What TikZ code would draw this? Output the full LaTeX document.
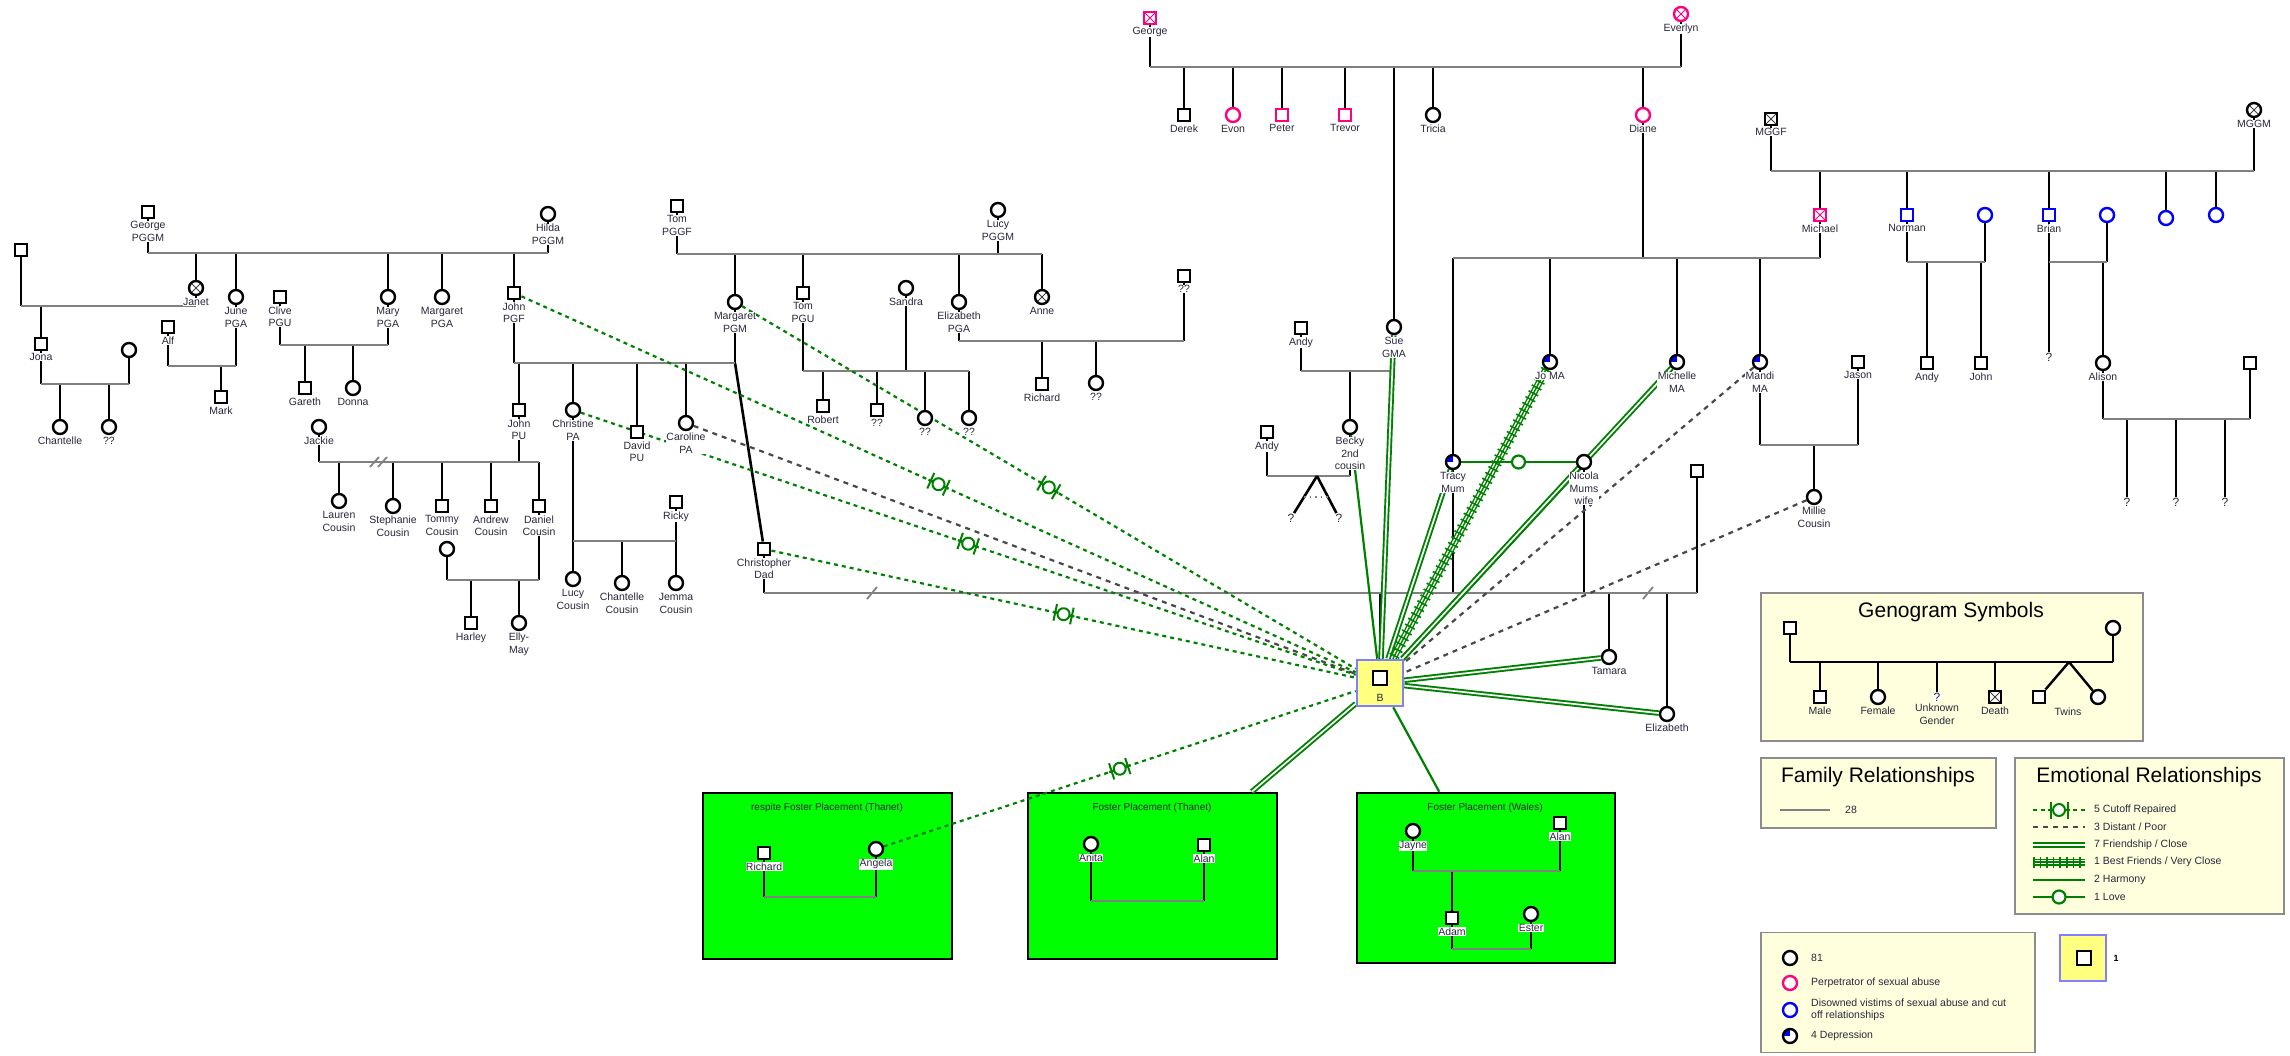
\documentclass[tikz,border=0pt]{standalone}
\usepackage{fontspec}
\setmainfont{Liberation Sans}
\usetikzlibrary{decorations.markings}

\definecolor{pinkp}{RGB}{255,0,128}
\definecolor{bluev}{RGB}{0,0,255}
\definecolor{emo}{RGB}{0,128,0}
\definecolor{famgray}{RGB}{128,128,128}
\definecolor{distgray}{RGB}{72,72,72}
\definecolor{fostergreen}{RGB}{0,255,0}
\definecolor{legendfill}{RGB}{255,255,221}
\definecolor{legendedge}{RGB}{140,140,140}
\definecolor{clientfill}{RGB}{255,255,128}
\definecolor{clientedge}{RGB}{128,128,255}
\definecolor{txt}{RGB}{40,40,60}

\newcommand\lbl{\fontsize{10.5}{12.5}\selectfont}
\newcommand\ttl{\fontsize{21}{24}\selectfont}

\pgfdeclarelayer{boxes}
\pgfdeclarelayer{lines}
\pgfsetlayers{boxes,lines,main}

\begin{document}
\begin{tikzpicture}
        [x=1pt, y=-1pt,
        male/.style={rectangle, draw, line width=2.4pt, fill=white,
        minimum size=12.5pt, inner sep=0pt},
        female/.style={circle, draw, line width=2.4pt, fill=white,
        minimum size=14pt, inner sep=0pt},
        dead/.style={path picture={\draw[#1, line width=0.8pt]
            (path picture bounding box.north west) -- (path picture bounding box.south east)
            (path picture bounding box.north east) -- (path picture bounding box.south west);}},
        dead/.default=black!75,
        dep/.style={path picture={\fill[bluev] (path picture bounding box.center)
            rectangle (path picture bounding box.north west);}},
        unk/.style={font=\fontsize{12}{12}\selectfont, text=txt, inner sep=0.5pt},
        every label/.style={font=\lbl, text=txt, fill=white, inner sep=0.4pt, align=center},
        label distance=1.5pt,
        kid/.style={draw=black, line width=2.6pt},
        bar/.style={draw=famgray, line width=2.6pt},
        legline/.style={draw=black, line width=2.4pt},
        cutoff/.style={draw=emo, line width=2.2pt, dash pattern=on 4pt off 4pt,
            postaction={decorate},
            decoration={markings, mark=at position 0.5 with {
                \draw[solid, emo, line width=2.2pt] (-11pt,0pt) -- (11pt,0pt);
                \draw[solid, emo, line width=2pt] (-8.5pt,-8.5pt) -- (-8.5pt,8.5pt) (8.5pt,-8.5pt) -- (8.5pt,8.5pt);
                \draw[solid, emo, line width=2pt, fill=white] (0pt,0pt) circle (6pt);}}},
        distant/.style={draw=distgray, line width=2.2pt, dash pattern=on 5pt off 5pt},
        closerel/.style={draw=emo, line width=1.9pt, double=white, double distance=1.7pt},
        harmony/.style={draw=emo, line width=2.2pt},
        bestf/.style={draw=emo, line width=1.4pt,
            preaction={draw=emo, line width=7pt},
            preaction={draw=white, line width=4.2pt},
            postaction={draw=emo, line width=11pt, dash pattern=on 1.6pt off 5pt}},
        love/.style={draw=emo, line width=2.2pt, postaction={decorate},
            decoration={markings, mark=at position 0.5 with {
                \draw[emo, line width=2.2pt, fill=white] (0pt,0pt) circle (6.5pt);}}},
        fbox/.style={rectangle, draw=black, line width=2.6pt, fill=fostergreen},
        ftitle/.style={font=\fontsize{10}{12}\selectfont, text=txt, inner sep=1pt},
        lbox/.style={rectangle, draw=legendedge, line width=1.8pt, fill=legendfill},
        ltitle/.style={font=\ttl, text=black, inner sep=1pt},
        ltext/.style={font=\lbl, text=txt, inner sep=1pt, anchor=west, align=left},
        clientbox/.style={rectangle, draw=clientedge, line width=2.6pt, fill=clientfill,
        minimum size=46pt, inner sep=0pt}]
        \useasboundingbox (0,0) rectangle (2290,1055);

        % paternal side, left
        \node[male, label=below:{George\\PGGM}] (georgeg) at (148,212) {};
        \node[female, label=below:{Hilda\\PGGM}] (hilda) at (548,214) {};
        \node[male] (jonaf) at (21,250) {};
        \node[female, dead, label=below:Janet] (janet) at (196,288) {};
        \node[female, label=below:{June\\PGA}] (june) at (236,297) {};
        \node[female, label=below:{Mary\\PGA}] (mary) at (388,297) {};
        \node[female, label=below:{Margaret\\PGA}] (margaretpga) at (442,297) {};
        \node[male, label=below:{John\\PGF}] (johnpgf) at (514,293) {};
        \node[male, label=below:{Clive\\PGU}] (clive) at (280,297) {};
        \node[male, label=below:Alf] (alf) at (168,327) {};
        \node[male, label=below:Mark] (mark) at (221,397) {};
        \node[male, label=below:Gareth] (gareth) at (305,388) {};
        \node[female, label=below:Donna] (donna) at (353,388) {};
        \node[male, label=below:Jona] (jona) at (41,344) {};
        \node[female] (jonam) at (129,350) {};
        \node[female, label=below:Chantelle] (chantelle) at (60,427) {};
        \node[female, label=below:??] (jonac) at (109,427) {};
        \node[female, label=below:Jackie] (jackie) at (319,427) {};

        % paternal side, Tom and Lucy
        \node[male, label=below:{Tom\\PGGF}] (tompggf) at (677,206) {};
        \node[female, label=below:{Lucy\\PGGM}] (lucy) at (998,210) {};
        \node[female, label=below:{Margaret\\PGM}] (margaretpgm) at (735,302) {};
        \node[male, label=below:{Tom\\PGU}] (tompgu) at (803,293) {};
        \node[female, label=below:Sandra] (sandra) at (906,288) {};
        \node[female, label=below:{Elizabeth\\PGA}] (elizabethpga) at (959,302) {};
        \node[female, dead, label=below:Anne] (anne) at (1042,297) {};
        \node[male, label=below:??] (elizm) at (1184,276) {};
        \node[male, label=below:Robert] (robert) at (823,406) {};
        \node[male, label=below:??] (tomc2) at (877,410) {};
        \node[female, label=below:??] (tomc3) at (925,418) {};
        \node[female, label=below:??] (tomc4) at (969,418) {};
        \node[male, label=below:Richard] (richard) at (1042,384) {};
        \node[female, label=below:??] (elizc) at (1096,383) {};

        % John PGF and Margaret PGM children
        \node[male, label=below:{John\\PU}] (johnpu) at (519,410) {};
        \node[female, label=below:{Christine\\PA}] (christine) at (573,410) {};
        \node[male, label=below:{David\\PU}] (david) at (637,432) {};
        \node[female, label=below:{Caroline\\PA}] (caroline) at (686,423) {};
        \node[male, label=below:{Christopher\\Dad}] (chris) at (764,549) {};

        % cousins
        \node[female, label=below:{Lauren\\Cousin}] (lauren) at (339,501) {};
        \node[female, label=below:{Stephanie\\Cousin}] (stephanie) at (393,506) {};
        \node[male, label=below:{Tommy\\Cousin}] (tommy) at (442,506) {};
        \node[male, label=below:{Andrew\\Cousin}] (andrew) at (491,506) {};
        \node[male, label=below:{Daniel\\Cousin}] (daniel) at (539,506) {};
        \node[female] (danielw) at (447,549) {};
        \node[male, label=below:Harley] (harley) at (471,623) {};
        \node[female, label=below:{Elly-\\May}] (ellymay) at (519,623) {};
        \node[male, label=below:Ricky] (ricky) at (676,502) {};
        \node[female, label=below:{Lucy\\Cousin}] (lucyc) at (573,579) {};
        \node[female, label=below:{Chantelle\\Cousin}] (chantellec) at (622,583) {};
        \node[female, label=below:{Jemma\\Cousin}] (jemma) at (676,583) {};

        % maternal side, George and Everlyn
        \node[male, draw=pinkp, dead=pinkp, label=below:George] (georgem) at (1150,18) {};
        \node[female, draw=pinkp, dead=pinkp, label=below:Everlyn] (everlyn) at (1681,14) {};
        \node[male, label=below:Derek] (derek) at (1184,115) {};
        \node[female, draw=pinkp, label=below:Evon] (evon) at (1233,115) {};
        \node[male, draw=pinkp, label=below:Peter] (peter) at (1282,115) {};
        \node[male, draw=pinkp, label=below:Trevor] (trevor) at (1345,115) {};
        \node[female, label=below:Tricia] (tricia) at (1433,115) {};
        \node[female, draw=pinkp, label=below:Diane] (diane) at (1643,115) {};
        \node[female, label=below:{Sue\\GMA}] (sue) at (1394,327) {};
        \node[male, label=below:Andy] (andy) at (1301,328) {};
        \node[female, label=below:{Becky\\2nd\\cousin}] (becky) at (1350,427) {};
        \node[male, label=below:Andy] (andyb) at (1267,432) {};
        \node[unk] (twin1) at (1291,518) {?};
        \node[unk] (twin2) at (1339,518) {?};

        % Diane and Michael
        \node[male, draw=pinkp, dead=pinkp, label=below:Michael] (michael) at (1820,215) {};
        \node[female, dep, label=below:{Tracy\\Mum}] (tracy) at (1453,462) {};
        \node[female, dep, label=below:{Jo MA}] (jo) at (1550,362) {};
        \node[female, dep, label=below:{Michelle\\MA}] (michelle) at (1677,362) {};
        \node[female, dep, label=below:{Mandi\\MA}] (mandi) at (1760,362) {};
        \node[male, label=below:Jason] (jason) at (1858,362) {};
        \node[female, label=below:{Millie\\Cousin}] (millie) at (1814,497) {};
        \node[female, label=below:{Nicola\\Mums\\wife}] (nicola) at (1584,462) {};
        \node[male] (tamaraf) at (1697,471) {};
        \node[female, label=below:Tamara] (tamara) at (1609,657) {};
        \node[female, label=below:Elizabeth] (elizabethb) at (1667,714) {};

        % MGGF and MGGM
        \node[male, dead, label=below:MGGF] (mggf) at (1771,119) {};
        \node[female, dead, label=below:MGGM] (mggm) at (2254,110) {};
        \node[male, draw=bluev, label=below:Norman] (norman) at (1907,215) {};
        \node[female, draw=bluev] (normanw) at (1985,215) {};
        \node[male, draw=bluev, label=below:Brian] (brian) at (2049,215) {};
        \node[female, draw=bluev] (brianw) at (2107,215) {};
        \node[female, draw=bluev] (maunt1) at (2166,218) {};
        \node[female, draw=bluev] (maunt2) at (2216,215) {};
        \node[male, label=below:Andy] (andyn) at (1927,363) {};
        \node[male, label=below:John] (johnn) at (1981,363) {};
        \node[unk] (brianc) at (2049,357) {?};
        \node[female, label=below:Alison] (alison) at (2103,363) {};
        \node[male] (alisonh) at (2250,363) {};
        \node[unk] (alc1) at (2127,502) {?};
        \node[unk] (alc2) at (2176,502) {?};
        \node[unk] (alc3) at (2225,502) {?};

        % client
        \node[clientbox] (b) at (1380,683) {};
        \node[male, minimum size=13.5pt, line width=2.1pt] (bsq) at (1380,678) {};
        \node[font=\lbl, text=txt, inner sep=0pt] (blbl) at (1380,698) {B};

        % foster placements
        \begin{pgfonlayer}{boxes}
            \node[fbox, minimum width=249pt, minimum height=166pt] (fp1) at (827.5,876) {};
            \node[fbox, minimum width=249pt, minimum height=166pt] (fp2) at (1152.5,876) {};
            \node[fbox, minimum width=258pt, minimum height=170pt] (fp3) at (1486,878) {};
            \node[lbox, minimum width=382pt, minimum height=148pt] (gsym) at (1952,667) {};
            \node[lbox, minimum width=235pt, minimum height=70pt] (frel) at (1878.5,793) {};
            \node[lbox, minimum width=269pt, minimum height=156pt] (erel) at (2149.5,836) {};
            \node[lbox, minimum width=274pt, minimum height=120pt] (ckey) at (1898,992.5) {};
        \end{pgfonlayer}
        \node[ftitle] (fp1t) at (827,808) {respite Foster Placement (Thanet)};
        \node[male, label=below:Richard] (richardf) at (764,853) {};
        \node[female, label=below:Angela] (angela) at (876,849) {};
        \node[ftitle] (fp2t) at (1152,808) {Foster Placement (Thanet)};
        \node[female, label=below:Anita] (anita) at (1091,844) {};
        \node[male, label=below:Alan] (alanf) at (1204,845) {};
        \node[ftitle] (fp3t) at (1485,808) {Foster Placement (Wales)};
        \node[female, label=below:Jayne] (jayne) at (1413,831) {};
        \node[male, label=below:Alan] (alanw) at (1560,823) {};
        \node[male, label=below:Adam] (adam) at (1452,918) {};
        \node[female, label=below:Ester] (ester) at (1531,914) {};

        % legend
        \begin{scope}[every label/.append style={fill=none}]
            \node[ltitle] (gsymt) at (1951,612) {Genogram Symbols};
            \node[male] (gsm) at (1790,628) {};
            \node[female] (gsf) at (2113,628) {};
            \node[male, label=below:Male] (gsmale) at (1820,697) {};
            \node[female, label=below:Female] (gsfemale) at (1878,697) {};
            \node[unk, fill=white, label=below:{Unknown\\Gender}] (gsunk) at (1937,697) {?};
            \node[male, dead, label=below:Death] (gsdeath) at (1995,697) {};
            \node[male] (gstwm) at (2039,697) {};
            \node[female] (gstwf) at (2098,697) {};
            \node[font=\lbl, text=txt] (gstwl) at (2068,712) {Twins};
            \node[ltitle] (frelt) at (1878,777) {Family Relationships};
            \node[ltext] (frel1) at (1844,810) {28};
            \node[ltitle] (erelt) at (2149,777) {Emotional Relationships};
            \node[ltext] (erel1) at (2093,810) {5 Cutoff Repaired};
            \node[ltext] (erel2) at (2093,827) {3 Distant / Poor};
            \node[ltext] (erel3) at (2093,845) {7 Friendship / Close};
            \node[ltext] (erel4) at (2093,862) {1 Best Friends / Very Close};
            \node[ltext] (erel5) at (2093,880) {2 Harmony};
            \node[ltext] (erel6) at (2093,897) {1 Love};
            \node[female] (ck1) at (1790,958) {};
            \node[ltext] (ck1t) at (1810,958) {81};
            \node[female, draw=pinkp] (ck2) at (1790,983) {};
            \node[ltext] (ck2t) at (1810,983) {Perpetrator of sexual abuse};
            \node[female, draw=bluev] (ck3) at (1790,1010) {};
            \node[ltext] (ck3t) at (1810,1010) {Disowned vistims of sexual abuse and cut\\off relationships};
            \node[female, dep] (ck4) at (1790,1036) {};
            \node[ltext] (ck4t) at (1810,1036) {4 Depression};
            \node[clientbox] (kb) at (2083,958) {};
            \node[male, minimum size=13.5pt, line width=2.1pt] (kbsq) at (2084,958) {};
            \node[font=\bfseries\small, inner sep=0pt] (kbt) at (2116,958) {1};
        \end{scope}

        \begin{pgfonlayer}{lines}
            % George PGGM and Hilda
            \coordinate (pgbar) at (0,253);
            \foreach \p in {georgeg,hilda,janet,june,mary,margaretpga,johnpgf}
                \draw[kid] (\p) -- (\p |- pgbar);
            \draw[bar] (georgeg |- pgbar) -- (hilda |- pgbar);
            % Janet
            \coordinate (jbar) at (0,306);
            \foreach \p in {jonaf,janet,jona}
                \draw[kid] (\p) -- (\p |- jbar);
            \draw[bar] (jonaf |- jbar) -- (janet |- jbar);
            \coordinate (jnbar) at (0,384);
            \foreach \p in {jona,jonam,chantelle,jonac}
                \draw[kid] (\p) -- (\p |- jnbar);
            \draw[bar] (jona |- jnbar) -- (jonam |- jnbar);
            % June and Alf
            \coordinate (abar) at (0,366);
            \foreach \p in {alf,june,mark}
                \draw[kid] (\p) -- (\p |- abar);
            \draw[bar] (alf |- abar) -- (june |- abar);
            % Mary and Clive
            \coordinate (cbarm) at (0,345);
            \foreach \p in {clive,mary,gareth,donna}
                \draw[kid] (\p) -- (\p |- cbarm);
            \draw[bar] (clive |- cbarm) -- (mary |- cbarm);
            % Tom PGGF and Lucy
            \coordinate (tlbar) at (0,254);
            \foreach \p in {tompggf,lucy,margaretpgm,tompgu,elizabethpga,anne}
                \draw[kid] (\p) -- (\p |- tlbar);
            \draw[bar] (tompggf |- tlbar) -- (anne |- tlbar);
            % Tom PGU and Sandra
            \coordinate (tsbar) at (0,371);
            \foreach \p in {tompgu,sandra,robert,tomc2,tomc3,tomc4}
                \draw[kid] (\p) -- (\p |- tsbar);
            \draw[bar] (tompgu |- tsbar) -- (tomc4 |- tsbar);
            % Elizabeth PGA
            \coordinate (ebar) at (0,341);
            \foreach \p in {elizabethpga,elizm,richard,elizc}
                \draw[kid] (\p) -- (\p |- ebar);
            \draw[bar] (elizabethpga |- ebar) -- (elizm |- ebar);
            % John PGF and Margaret PGM
            \coordinate (jmbar) at (0,363);
            \foreach \p in {johnpgf,margaretpgm,johnpu,christine,david,caroline}
                \draw[kid] (\p) -- (\p |- jmbar);
            \draw[kid] (margaretpgm |- jmbar) -- (chris);
            \draw[bar] (johnpgf |- jmbar) -- (margaretpgm |- jmbar);
            % Jackie and John PU
            \coordinate (jpbar) at (0,462);
            \foreach \p in {jackie,johnpu,lauren,stephanie,tommy,andrew,daniel}
                \draw[kid] (\p) -- (\p |- jpbar);
            \draw[bar] (jackie |- jpbar) -- (daniel |- jpbar);
            \draw[bar, line width=1.8pt] (370,467) -- (379,457) (378,467) -- (387,457);
            \coordinate (dbar) at (0,580);
            \foreach \p in {danielw,daniel,harley,ellymay}
                \draw[kid] (\p) -- (\p |- dbar);
            \draw[bar] (danielw |- dbar) -- (daniel |- dbar);
            % Christine and Ricky
            \coordinate (rbar) at (0,541);
            \foreach \p in {christine,ricky,lucyc,chantellec,jemma}
                \draw[kid] (\p) -- (\p |- rbar);
            \draw[bar] (christine |- rbar) -- (ricky |- rbar);
            % George and Everlyn
            \coordinate (gebar) at (0,67);
            \foreach \p in {georgem,everlyn,derek,evon,peter,trevor,sue,tricia,diane}
                \draw[kid] (\p) -- (\p |- gebar);
            \draw[bar] (georgem |- gebar) -- (everlyn |- gebar);
            % Sue and Andy
            \coordinate (sbar) at (0,371);
            \foreach \p in {andy,sue,becky}
                \draw[kid] (\p) -- (\p |- sbar);
            \draw[bar] (andy |- sbar) -- (sue |- sbar);
            \coordinate (bkbar) at (0,476);
            \foreach \p in {andyb,becky}
                \draw[kid] (\p) -- (\p |- bkbar);
            \draw[bar] (andyb |- bkbar) -- (becky |- bkbar);
            \coordinate (twin) at (1317,476);
            \draw[kid] (twin) -- (twin1);
            \draw[kid] (twin) -- (twin2);
            \coordinate (twd1) at (1304,497);
            \coordinate (twd2) at (1330,497);
            \draw[famgray, line width=1.3pt, dash pattern=on 1.5pt off 4pt] (twd1) -- (twd2);
            % Diane and Michael
            \coordinate (dmbar) at (0,258);
            \foreach \p in {diane,michael,tracy,jo,michelle,mandi}
                \draw[kid] (\p) -- (\p |- dmbar);
            \draw[bar] (tracy |- dmbar) -- (michael |- dmbar);
            \coordinate (mjbar) at (0,445);
            \foreach \p in {mandi,jason,millie}
                \draw[kid] (\p) -- (\p |- mjbar);
            \draw[bar] (mandi |- mjbar) -- (jason |- mjbar);
            % MGGF and MGGM
            \coordinate (mgbar) at (0,171);
            \foreach \p in {mggf,mggm,michael,norman,brian,maunt1,maunt2}
                \draw[kid] (\p) -- (\p |- mgbar);
            \draw[bar] (mggf |- mgbar) -- (mggm |- mgbar);
            \coordinate (nbar) at (0,262);
            \foreach \p in {norman,normanw,andyn,johnn}
                \draw[kid] (\p) -- (\p |- nbar);
            \draw[bar] (norman |- nbar) -- (normanw |- nbar);
            \foreach \p in {brian,brianw,brianc,alison}
                \draw[kid] (\p) -- (\p |- nbar);
            \draw[bar] (brian |- nbar) -- (brianw |- nbar);
            \coordinate (albar) at (0,419);
            \foreach \p in {alison,alisonh,alc1,alc2,alc3}
                \draw[kid] (\p) -- (\p |- albar);
            \draw[bar] (alison |- albar) -- (alisonh |- albar);
            % Christopher, Tracy, Nicola
            \coordinate (cbar) at (0,593);
            \foreach \p in {chris,tracy,nicola,tamaraf,b,tamara,elizabethb}
                \draw[kid] (\p) -- (\p |- cbar);
            \draw[bar] (chris |- cbar) -- (tamaraf |- cbar);
            \draw[bar, line width=1.8pt] (867,599) -- (877,587) (1643,599) -- (1653,587);
            % foster families
            \coordinate (f1bar) at (0,897);
            \foreach \p in {richardf,angela}
                \draw[kid] (\p) -- (\p |- f1bar);
            \draw[bar] (richardf |- f1bar) -- (angela |- f1bar);
            \coordinate (f2bar) at (0,901);
            \foreach \p in {anita,alanf}
                \draw[kid] (\p) -- (\p |- f2bar);
            \draw[bar] (anita |- f2bar) -- (alanf |- f2bar);
            \coordinate (f3bar) at (0,871);
            \foreach \p in {jayne,alanw,adam}
                \draw[kid] (\p) -- (\p |- f3bar);
            \draw[bar] (jayne |- f3bar) -- (alanw |- f3bar);
            \coordinate (f4bar) at (0,949);
            \foreach \p in {adam,ester}
                \draw[kid] (\p) -- (\p |- f4bar);
            \draw[bar] (adam |- f4bar) -- (ester |- f4bar);
            % legend lines
            \coordinate (gsbar) at (0,662);
            \foreach \p in {gsm,gsf,gsmale,gsfemale,gsunk,gsdeath}
                \draw[legline] (\p) -- (\p |- gsbar);
            \draw[legline] (gsm |- gsbar) -- (gsf |- gsbar);
            \coordinate (gstw) at (2069,662);
            \draw[legline] (gstw) -- (gstwm);
            \draw[legline] (gstw) -- (gstwf);
            \draw[bar] (1780,810) -- (1830,810);
            \draw[cutoff] (2033,810) -- (2085,810);
            \draw[distant] (2033,827) -- (2085,827);
            \draw[closerel] (2033,845) -- (2085,845);
            \draw[bestf] (2033,862) -- (2085,862);
            \draw[harmony] (2033,880) -- (2085,880);
            \draw[love] (2033,897) -- (2085,897);

            % emotional relationships
            \draw[cutoff] (johnpgf) -- (b);
            \draw[cutoff] (margaretpgm) -- (b);
            \draw[cutoff] (christine) -- (b);
            \draw[distant] (caroline) -- (b);
            \draw[cutoff] (chris) -- (b);
            \draw[cutoff] (angela) -- (b);
            \draw[closerel] (fp2) -- (b);
            \draw[harmony] (fp3) -- (b);
            \draw[closerel] (sue) -- (b);
            \draw[harmony] (becky) -- (b);
            \draw[closerel] (tracy) -- (b);
            \draw[bestf] (jo) -- (b);
            \draw[closerel] (michelle) -- (b);
            \draw[closerel] (nicola) -- (b);
            \draw[distant] (mandi) -- (b);
            \draw[distant] (millie) -- (b);
            \draw[closerel] (tamara) -- (b);
            \draw[closerel] (elizabethb) -- (b);
            \draw[love] (tracy) -- (nicola);
        \end{pgfonlayer}
\end{tikzpicture}
\end{document}
